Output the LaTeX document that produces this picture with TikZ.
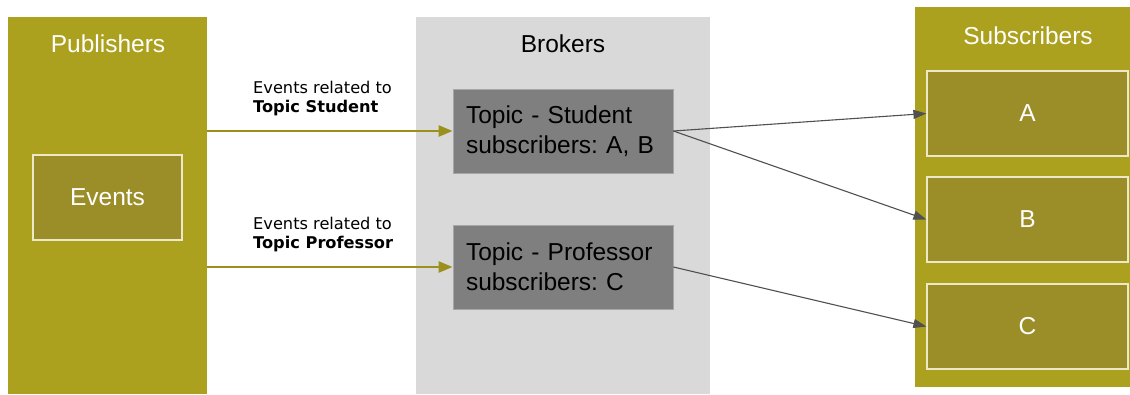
\documentclass[tikz,border=0pt]{standalone}
\usepackage{fontspec}
\setmainfont{Liberation Sans}
\newfontfamily\labelfont{DejaVu Sans}
\usepackage{tikz}
\usetikzlibrary{positioning,arrows.meta,calc}
\frenchspacing

\definecolor{olive}{HTML}{ACA01F}
\definecolor{darkolive}{HTML}{9B8D28}
\definecolor{cream}{HTML}{ECE8C8}
\definecolor{brokergray}{HTML}{D9D9D9}
\definecolor{topicgray}{HTML}{7F7F7F}
\definecolor{linegray}{HTML}{505050}

\tikzset{
  column/.style={fill=#1, draw=none, inner sep=0pt, anchor=north west},
  title/.style={text=white, font=\fontsize{24.5}{28}\selectfont},
  eventbox/.style={fill=darkolive, draw=cream, line width=1.2pt, minimum width=#1,
    minimum height=85pt, inner sep=0pt, text=white, font=\fontsize{24.5}{28}\selectfont},
  topicbox/.style={fill=topicgray, draw=gray!70, line width=0.8pt, minimum width=220pt,
    minimum height=84pt, inner sep=0pt, text width=194pt, align=left,
    font=\fontsize{24.5}{30}\selectfont},
  pubarrow/.style={draw=olive!90!black, line width=2.4pt, -{Triangle[length=14pt,width=11pt]}},
  subarrow/.style={draw=linegray, line width=1.1pt, -{Triangle[length=13pt,width=9pt]}},
  tag/.style={anchor=south west, align=left, inner sep=0pt,
    font=\labelfont\fontsize{16.2}{19}\selectfont}
}

\begin{document}
\begin{tikzpicture}[x=1pt,y=-1pt]
\useasboundingbox (0,0) rectangle (1130,394);

% three columns
\node[column=olive, minimum width=199pt, minimum height=377pt] (pubcol) at (8,17) {};
\node[column=brokergray, minimum width=294pt, minimum height=377pt] (brocol) at (416,17) {};
\node[column=olive, minimum width=215pt, minimum height=380pt] (subcol) at (915,7) {};

\node[title] (pubtitle) at (108,44) {Publishers};
\node[title, text=black] (brotitle) at (563,44) {Brokers};
\node[title] (subtitle) at (1028,36) {Subscribers};

% publishers
\node[eventbox=149pt] (events) at (107.5,197.5) {Events};

% brokers
\node[topicbox] (student) at (563,131) {Topic - Student\\subscribers: A, B};
\node[topicbox] (professor) at (563,267) {Topic - Professor\\subscribers: C};

% subscribers
\node[eventbox=201pt] (subA) at (1027.5,113.5) {A};
\node[eventbox=201pt] (subB) at (1027.5,219.5) {B};
\node[eventbox=201pt] (subC) at (1027.5,326.5) {C};

% publishers to brokers
\draw[pubarrow] (pubcol.east |- student.west) -- (student.west);
\draw[pubarrow] (pubcol.east |- professor.west) -- (professor.west);

\node[tag] (studtag) at (253,116) {Events related to\\\textbf{Topic Student}};
\node[tag] (proftag) at (253,252) {Events related to\\\textbf{Topic Professor}};

% brokers to subscribers
\draw[subarrow] (student.east) -- (subA.west);
\draw[subarrow] (student.east) -- (subB.west);
\draw[subarrow] (professor.east) -- (subC.west);
\end{tikzpicture}
\end{document}
